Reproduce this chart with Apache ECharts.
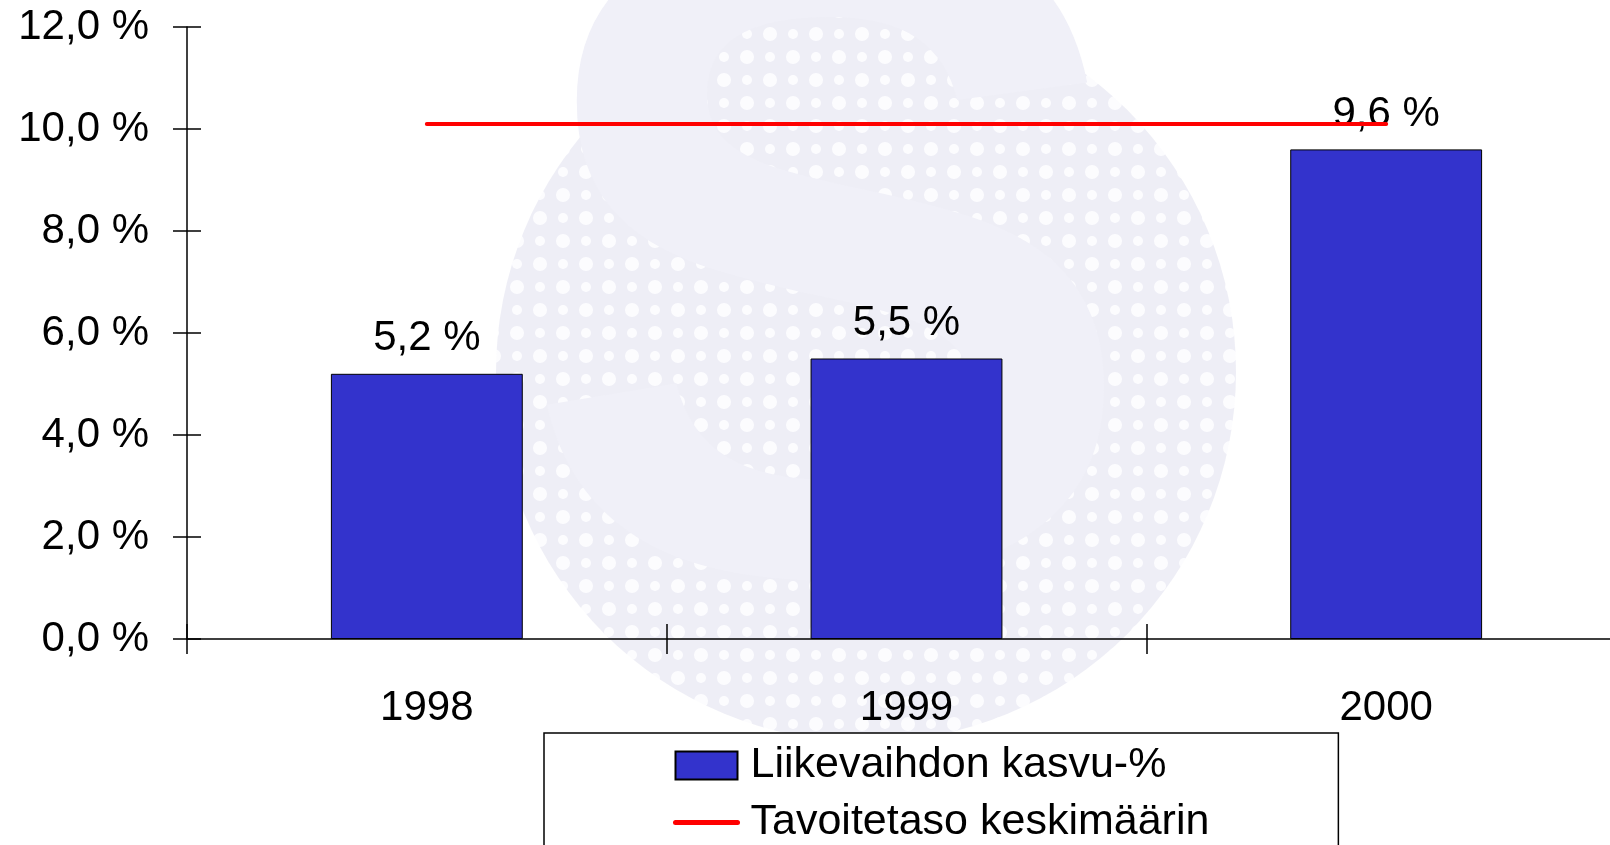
<!DOCTYPE html>
<html>
<head>
<meta charset="utf-8">
<script src="https://cdn.jsdelivr.net/npm/echarts@6/dist/echarts.min.js"></script>
<style>
  html, body { margin: 0; padding: 0; background: #fff; }
  #main { width: 1610px; height: 845px; }
</style>
</head>
<body>
<div id="main"></div>
<script>
// data
var years = ['1998', '1999', '2000']
var kasvu = [5.2, 5.5, 9.6]
var tavoite = [10.1, 10.1, 10.1]

var font = "'Liberation Sans', Arial, sans-serif"

function pct(v) {
  return v.toFixed(1).replace('.', ',') + ' %'
}

// dotted fill for the faint logo in the background
function dotPattern() {
  var c = document.createElement('canvas')
  c.width = 46
  c.height = 46
  var ctx = c.getContext('2d')
  ctx.fillStyle = '#e3e3f1'
  ctx.fillRect(0, 0, 46, 46)
  ctx.fillStyle = '#fbfbfe'
  ;[[11, 11], [34, 34], [34, 11], [11, 34]].forEach(function (p, i) {
    ctx.beginPath()
    ctx.arc(p[0], p[1], i < 2 ? 7 : 5, 0, Math.PI * 2)
    ctx.fill()
  })
  return c
}

var chart = echarts.init(document.getElementById('main'))

chart.setOption({
  animation: false,
  backgroundColor: '#ffffff',
  textStyle: { fontFamily: font },
  graphic: [{
    type: 'circle',
    z: -20,
    silent: true,
    shape: { cx: 866, cy: 372, r: 370 },
    style: { fill: { image: dotPattern(), repeat: 'repeat' }, opacity: 0.6 }
  }, {
    type: 'text',
    left: 520,
    top: -150,
    z: -10,
    silent: true,
    style: {
      text: 'S',
      font: 'bold 930px ' + font,
      fill: '#f0f0f8'
    }
  }],
  grid: {
    left: 187,
    width: 1439,
    top: 27,
    bottom: 206,
    outerBoundsMode: 'none',
    containLabel: false
  },
  legend: {
    orient: 'vertical',
    left: 544,
    top: 733,
    height: 160,
    padding: [11, 129, 30, 129],
    itemGap: 14,
    itemWidth: 62,
    itemHeight: 28,
    backgroundColor: '#ffffff',
    borderColor: '#000000',
    borderWidth: 1.5,
    borderRadius: 0,
    lineStyle: { width: 5, cap: 'round' },
    textStyle: {
      fontFamily: font,
      fontSize: 43,
      color: '#000',
      lineHeight: 42,
      padding: [0, 0, 0, 8]
    },
    data: [
      { name: 'Liikevaihdon kasvu-%', icon: 'rect' },
      { name: 'Tavoitetaso keskimäärin', itemStyle: { color: 'rgba(0,0,0,0)', borderWidth: 0, opacity: 0 } }
    ]
  },
  xAxis: [{
    type: 'category',
    data: years,
    boundaryGap: true,
    axisLine: { lineStyle: { color: '#000', width: 1.5 } },
    axisTick: { show: true, length: 15, lineStyle: { color: '#000', width: 1.5 } },
    axisLabel: {
      color: '#000',
      fontFamily: font,
      fontSize: 42,
      margin: 48
    },
    splitLine: { show: false }
  }, {
    // twin axis only for the upper half of the crossing ticks
    type: 'category',
    data: years,
    position: 'bottom',
    axisLine: { show: false },
    axisTick: { show: true, inside: true, length: 15, lineStyle: { color: '#000', width: 1.5 } },
    axisLabel: { show: false },
    splitLine: { show: false }
  }],
  yAxis: [{
    type: 'value',
    min: 0,
    max: 12,
    interval: 2,
    axisLine: { show: true, lineStyle: { color: '#000', width: 1.5 } },
    axisTick: { show: true, length: 14, lineStyle: { color: '#000', width: 1.5 } },
    axisLabel: {
      color: '#000',
      fontFamily: font,
      fontSize: 42,
      margin: 38,
      formatter: pct
    },
    splitLine: { show: false }
  }, {
    // twin axis only for the inner half of the crossing ticks
    type: 'value',
    position: 'left',
    min: 0,
    max: 12,
    interval: 2,
    axisLine: { show: false },
    axisTick: { show: true, inside: true, length: 14, lineStyle: { color: '#000', width: 1.5 } },
    axisLabel: { show: false },
    splitLine: { show: false }
  }],
  series: [{
    name: 'Liikevaihdon kasvu-%',
    type: 'bar',
    data: kasvu,
    barWidth: '40%',
    itemStyle: {
      color: '#3333cc',
      borderColor: '#000',
      borderWidth: 1
    },
    label: {
      show: true,
      position: 'top',
      distance: 14,
      color: '#000',
      fontFamily: font,
      fontSize: 42,
      formatter: function (p) { return pct(p.value) }
    },
    z: 2
  }, {
    name: 'Tavoitetaso keskimäärin',
    type: 'line',
    data: tavoite,
    symbol: 'none',
    lineStyle: { color: '#ff0000', width: 4, cap: 'round' },
    itemStyle: { color: '#ff0000' },
    z: 3
  }]
})
</script>
</body>
</html>
